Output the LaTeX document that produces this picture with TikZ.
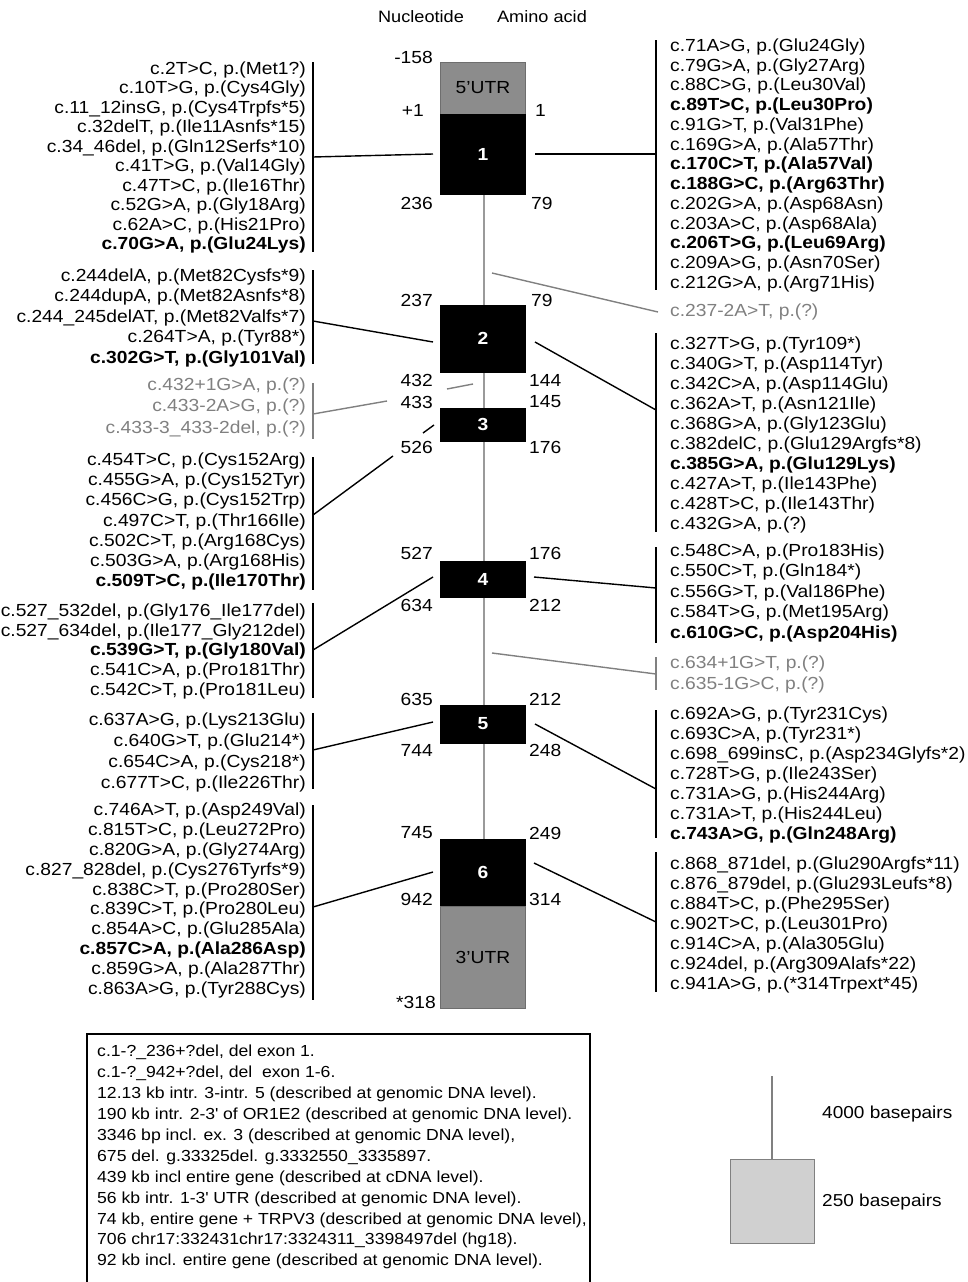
\documentclass[tikz,border=0pt]{standalone}
\usepackage{fontspec}
\setmainfont[FakeStretch=1.1]{Liberation Sans}
\definecolor{midgray}{HTML}{808080}
\definecolor{utrgray}{HTML}{8C8C8C}
\definecolor{utrborder}{HTML}{6E6E6E}
\definecolor{introngray}{HTML}{9A9A9A}
\definecolor{legfill}{HTML}{D0D0D0}
\begin{document}
\begin{tikzpicture}[x=1pt,y=-1pt,
  mut/.style={inner sep=0pt, font=\fontsize{17.5}{#1}\selectfont},
  mutL/.style={mut=#1, align=right, anchor=north east},
  mutR/.style={mut=#1, align=left, anchor=north west},
  poslab/.style={inner sep=0pt, font=\fontsize{17.5}{20}\selectfont},
  posL/.style={poslab, anchor=east},
  posR/.style={poslab, anchor=west},
  exon/.style={draw=black, fill=black, minimum width=85pt, inner sep=0pt, text=white, font=\fontsize{17.5}{20}\selectfont\bfseries},
  utr/.style={draw=utrborder, line width=1pt, fill=utrgray, minimum width=85pt, inner sep=0pt, font=\fontsize{17.5}{20}\selectfont},
  conn/.style={line width=1.4pt},
  gconn/.style={line width=1.4pt, draw=midgray},
  hdr/.style={inner sep=0pt, font=\fontsize{16.5}{20}\selectfont},
]
\useasboundingbox (0,0) rectangle (968,1282);

% ---------- headers
\node[hdr] (hnuc) at (421,17) {Nucleotide};
\node[hdr] (haa) at (542,17) {Amino acid};

% ---------- intron line
\coordinate (itop) at (484,194);
\coordinate (ibot) at (484,839);
\draw[introngray, line width=1.6pt] (itop) -- (ibot);

% ---------- exons
\node[utr, minimum height=52pt] (u5) at (483,88) {5’UTR};
\node[exon, minimum height=80pt] (e1) at (483,154) {1};
\node[exon, minimum height=67pt] (e2) at (483,338.5) {2};
\node[exon, minimum height=33pt] (e3) at (483,424.5) {3};
\node[exon, minimum height=36pt] (e4) at (483,579) {4};
\node[exon, minimum height=38pt] (e5) at (483,724) {5};
\node[exon, minimum height=67pt] (e6) at (483,872.5) {6};
\node[utr, minimum height=102pt] (u3) at (483,957) {3’UTR};

% ---------- position labels
\node[posL] (n1) at (433,57) {-158};
\node[posL] (n2) at (424,110) {+1};
\node[posL] (n3) at (433,203) {236};
\node[posL] (n4) at (433,300) {237};
\node[posL] (n5) at (433,380) {432};
\node[posL] (n6) at (433,402) {433};
\node[posL] (n7) at (433,447) {526};
\node[posL] (n8) at (433,553) {527};
\node[posL] (n9) at (433,605) {634};
\node[posL] (n10) at (433,699) {635};
\node[posL] (n11) at (433,750) {744};
\node[posL] (n12) at (433,833) {745};
\node[posL] (n13) at (433,899) {942};
\node[posL] (n14) at (436,1002) {*318};
\node[posR] (a1) at (535,110) {1};
\node[posR] (a2) at (531,203) {79};
\node[posR] (a3) at (531,300) {79};
\node[posR] (a4) at (529,380) {144};
\node[posR] (a5) at (529,402) {145};
\node[posR] (a6) at (529,447) {176};
\node[posR] (a7) at (529,553) {176};
\node[posR] (a8) at (529,605) {212};
\node[posR] (a9) at (529,699) {212};
\node[posR] (a10) at (529,750) {248};
\node[posR] (a11) at (529,833) {249};
\node[posR] (a12) at (529,899) {314};

% ---------- left mutation groups
\node[mutL=19.44] (L1) at (306,61.6) {c.2T>C, p.(Met1?)\\ c.10T>G, p.(Cys4Gly)\\ c.11\_12insG, p.(Cys4Trpfs*5)\\ c.32delT, p.(Ile11Asnfs*15)\\ c.34\_46del, p.(Gln12Serfs*10)\\ c.41T>G, p.(Val14Gly)\\ c.47T>C, p.(Ile16Thr)\\ c.52G>A, p.(Gly18Arg)\\ c.62A>C, p.(His21Pro)\\ \textbf{c.70G>A, p.(Glu24Lys)}};
\node[mutL=20.5] (L2) at (306,268.6) {c.244delA, p.(Met82Cysfs*9)\\ c.244dupA, p.(Met82Asnfs*8)\\ c.244\_245delAT, p.(Met82Valfs*7)\\ c.264T>A, p.(Tyr88*)\\ \textbf{c.302G>T, p.(Gly101Val)}};
\node[mutL=21.5, text=midgray] (L3) at (306,377.6) {c.432+1G>A, p.(?)\\ c.433-2A>G, p.(?)\\ c.433-3\_433-2del, p.(?)};
\node[mutL=20.2] (L4) at (306,452.6) {c.454T>C, p.(Cys152Arg)\\ c.455G>A, p.(Cys152Tyr)\\ c.456C>G, p.(Cys152Trp)\\ c.497C>T, p.(Thr166Ile)\\ c.502C>T, p.(Arg168Cys)\\ c.503G>A, p.(Arg168His)\\ \textbf{c.509T>C, p.(Ile170Thr)}};
\node[mutL=19.75] (L5) at (306,603.6) {c.527\_532del, p.(Gly176\_Ile177del)\\ c.527\_634del, p.(Ile177\_Gly212del)\\ \textbf{c.539G>T, p.(Gly180Val)}\\ c.541C>A, p.(Pro181Thr)\\ c.542C>T, p.(Pro181Leu)};
\node[mutL=21] (L6) at (306,712.6) {c.637A>G, p.(Lys213Glu)\\ c.640G>T, p.(Glu214*)\\ c.654C>A, p.(Cys218*)\\ c.677T>C, p.(Ile226Thr)};
\node[mutL=19.9] (L7) at (306,802.6) {c.746A>T, p.(Asp249Val)\\ c.815T>C, p.(Leu272Pro)\\ c.820G>A, p.(Gly274Arg)\\ c.827\_828del, p.(Cys276Tyrfs*9)\\ c.838C>T, p.(Pro280Ser)\\ c.839C>T, p.(Pro280Leu)\\ c.854A>C, p.(Glu285Ala)\\ \textbf{c.857C>A, p.(Ala286Asp)}\\ c.859G>A, p.(Ala287Thr)\\ c.863A>G, p.(Tyr288Cys)};

% ---------- right mutation groups
\node[mutR=19.75] (R1) at (670,38.6) {c.71A>G, p.(Glu24Gly)\\ c.79G>A, p.(Gly27Arg)\\ c.88C>G, p.(Leu30Val)\\ \textbf{c.89T>C, p.(Leu30Pro)}\\ c.91G>T, p.(Val31Phe)\\ c.169G>A, p.(Ala57Thr)\\ \textbf{c.170C>T, p.(Ala57Val)}\\ \textbf{c.188G>C, p.(Arg63Thr)}\\ c.202G>A, p.(Asp68Asn)\\ c.203A>C, p.(Asp68Ala)\\ \textbf{c.206T>G, p.(Leu69Arg)}\\ c.209A>G, p.(Asn70Ser)\\ c.212G>A, p.(Arg71His)};
\node[mutR=20, text=midgray] (Rg1) at (670,303.6) {c.237-2A>T, p.(?)};
\node[mutR=20] (R2) at (670,336.6) {c.327T>G, p.(Tyr109*)\\ c.340G>T, p.(Asp114Tyr)\\ c.342C>A, p.(Asp114Glu)\\ c.362A>T, p.(Asn121Ile)\\ c.368G>A, p.(Gly123Glu)\\ c.382delC, p.(Glu129Argfs*8)\\ \textbf{c.385G>A, p.(Glu129Lys)}\\ c.427A>T, p.(Ile143Phe)\\ c.428T>C, p.(Ile143Thr)\\ c.432G>A, p.(?)};
\node[mutR=20.5] (R4) at (670,543.6) {c.548C>A, p.(Pro183His)\\ c.550C>T, p.(Gln184*)\\ c.556G>T, p.(Val186Phe)\\ c.584T>G, p.(Met195Arg)\\ \textbf{c.610G>C, p.(Asp204His)}};
\node[mutR=21, text=midgray] (Rg2) at (670,655.6) {c.634+1G>T, p.(?)\\ c.635-1G>C, p.(?)};
\node[mutR=20] (R5) at (670,706.6) {c.692A>G, p.(Tyr231Cys)\\ c.693C>A, p.(Tyr231*)\\ c.698\_699insC, p.(Asp234Glyfs*2)\\ c.728T>G, p.(Ile243Ser)\\ c.731A>G, p.(His244Arg)\\ c.731A>T, p.(His244Leu)\\ \textbf{c.743A>G, p.(Gln248Arg)}};
\node[mutR=20] (R6) at (670,856.6) {c.868\_871del, p.(Glu290Argfs*11)\\ c.876\_879del, p.(Glu293Leufs*8)\\ c.884T>C, p.(Phe295Ser)\\ c.902T>C, p.(Leu301Pro)\\ c.914C>A, p.(Ala305Glu)\\ c.924del, p.(Arg309Alafs*22)\\ c.941A>G, p.(*314Trpext*45)};

% ---------- brackets (left, x=313)
\draw[conn] (313,62) -- (313,252);
\draw[conn] (313,270) -- (313,364);
\draw[gconn] (313,383) -- (313,439);
\draw[conn] (313,457) -- (313,590);
\draw[conn] (313,603) -- (313,698);
\draw[conn] (313,713) -- (313,789);
\draw[conn] (313,805) -- (313,1000);
% brackets (right, x=656)
\draw[conn] (656,40) -- (656,290);
\draw[conn] (656,333) -- (656,532);
\draw[conn] (656,547) -- (656,643);
\draw[gconn] (656,657) -- (656,690);
\draw[conn] (656,710) -- (656,838);
\draw[conn] (656,852) -- (656,992);

% ---------- connector coordinates
\coordinate (bL1) at (313,157);  \coordinate (tL1) at (433,154);
\coordinate (bL2) at (313,321);  \coordinate (tL2) at (433,342);
\coordinate (bL3) at (313,414);  \coordinate (mL3a) at (387,401);
\coordinate (mL3b) at (447,389); \coordinate (tL3) at (473,384);
\coordinate (bL4) at (313,515);  \coordinate (mL4a) at (393,456);
\coordinate (mL4b) at (423,433); \coordinate (tL4) at (434,425);
\coordinate (bL5) at (313,650);  \coordinate (tL5) at (433,577);
\coordinate (bL6) at (313,750);  \coordinate (tL6) at (433,722);
\coordinate (bL7) at (313,907);  \coordinate (tL7) at (433,872);
\coordinate (bR1) at (656,154);  \coordinate (tR1) at (535,154);
\coordinate (bRg1) at (658,312); \coordinate (tRg1) at (492,273);
\coordinate (bR2) at (656,410);  \coordinate (tR2) at (535,342);
\coordinate (bR4) at (656,588);  \coordinate (tR4) at (534,577);
\coordinate (bRg2) at (656,674); \coordinate (tRg2) at (492,653);
\coordinate (bR5) at (656,789);  \coordinate (tR5) at (535,724);
\coordinate (bR6) at (656,922);  \coordinate (tR6) at (534,863);

\draw[conn] (bL1) -- (tL1);
\draw[conn] (bL2) -- (tL2);
\draw[gconn] (bL3) -- (mL3a);
\draw[gconn] (mL3b) -- (tL3);
\draw[conn] (bL4) -- (mL4a);
\draw[conn] (mL4b) -- (tL4);
\draw[conn] (bL5) -- (tL5);
\draw[conn] (bL6) -- (tL6);
\draw[conn] (bL7) -- (tL7);
\draw[conn] (tR1) -- (bR1);
\draw[gconn] (tRg1) -- (bRg1);
\draw[conn] (tR2) -- (bR2);
\draw[conn] (tR4) -- (bR4);
\draw[gconn] (tRg2) -- (bRg2);
\draw[conn] (tR5) -- (bR5);
\draw[conn] (tR6) -- (bR6);

% ---------- bottom box
\draw[line width=2.5pt] (87,1290) -- (87,1034) -- (590,1034) -- (590,1290);
\node[inner sep=0pt, anchor=north west, align=left, font=\fontsize{16.0}{20.9}\selectfont] (cnv) at (97,1045) {c.1-?\_236+?del, del exon 1.\\ c.1-?\_942+?del, del\ \ exon 1-6.\\ 12.13 kb intr. 3-intr. 5 (described at genomic DNA level).\\ 190 kb intr. 2-3\textquotesingle\ of OR1E2 (described at genomic DNA level).\\ 3346 bp incl. ex. 3 (described at genomic DNA level),\\ 675 del. g.33325del. g.3332550\_3335897.\\ 439 kb incl entire gene (described at cDNA level).\\ 56 kb intr. 1-3\textquotesingle\ UTR (described at genomic DNA level).\\ 74 kb, entire gene + TRPV3 (described at genomic DNA level),\\ 706 chr17:332431chr17:3324311\_3398497del (hg18).\\ 92 kb incl. entire gene (described at genomic DNA level).};

% ---------- scale legend
\node[draw=midgray, line width=1pt, fill=legfill, minimum width=84pt, minimum height=84pt, inner sep=0pt] (legbox) at (772,1201) {};
\coordinate (legtop) at (772,1076);
\draw[midgray, line width=1.2pt] (legtop) -- (legbox.north);
\node[inner sep=0pt, anchor=west, font=\fontsize{17.3}{20}\selectfont] (leg1) at (822,1114) {4000 basepairs};
\node[inner sep=0pt, anchor=west, font=\fontsize{17.3}{20}\selectfont] (leg2) at (822,1202) {250 basepairs};
\end{tikzpicture}
\end{document}
